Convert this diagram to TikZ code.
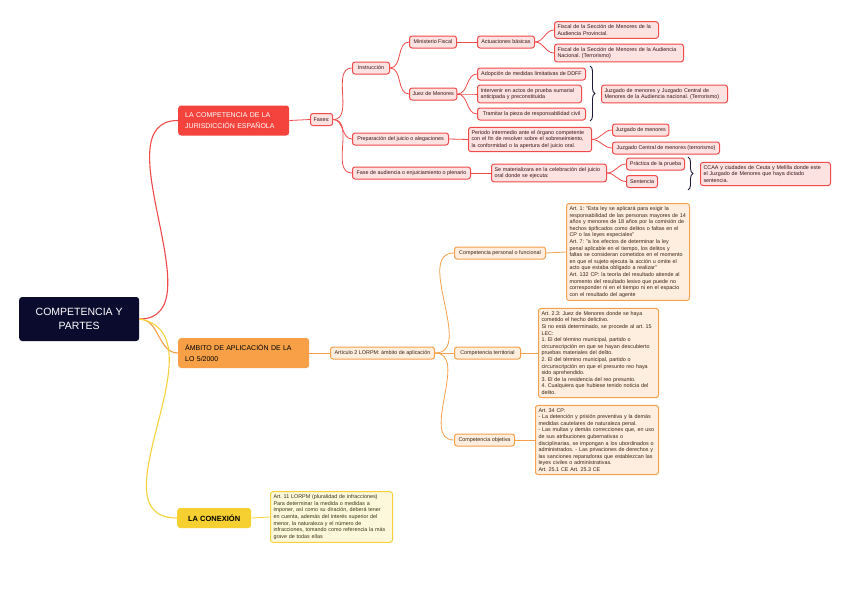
\documentclass[tikz,border=0pt]{standalone}
\usepackage{fontspec}
\setmainfont{Liberation Sans}
\usetikzlibrary{decorations.pathreplacing}
\definecolor{rootfill}{HTML}{0B0B2E}
\definecolor{redmain}{HTML}{F4433C}
\definecolor{redline}{HTML}{EF4B4B}
\definecolor{redfill}{HTML}{FDE2E2}
\definecolor{redtext}{HTML}{3A1414}
\definecolor{ormain}{HTML}{F7A048}
\definecolor{orline}{HTML}{F5A04A}
\definecolor{orfill}{HTML}{FDEEDF}
\definecolor{ortext}{HTML}{3A2410}
\definecolor{yemain}{HTML}{F5D030}
\definecolor{yeline}{HTML}{F5D23A}
\definecolor{yefill}{HTML}{FDF8DC}
\definecolor{yetext}{HTML}{3A3010}
\definecolor{bracecol}{HTML}{1A1A3A}
\frenchspacing
\newcommand\mysmallfont{\fontsize{5.4}{6.6}\selectfont\hyphenpenalty=10000\relax\exhyphenpenalty=10000\relax}
\begin{document}
\begin{tikzpicture}[x=1pt,y=-1pt,
  small/.style={font=\mysmallfont, anchor=west, rounded corners=2.5pt,
    line width=1pt, inner xsep=3pt, inner ysep=3pt, align=left},
  rsm/.style={small, draw=redline, fill=redfill, text=redtext},
  osm/.style={small, draw=orline, fill=orfill, text=ortext},
  ysm/.style={small, draw=yeline, fill=yefill, text=yetext},
  one/.style={minimum height=12pt, align=center},
  rl/.style={draw=redline, line width=0.8pt},
  ol/.style={draw=orline, line width=0.8pt},
  yl/.style={draw=yeline, line width=0.8pt},
  mainbox/.style={anchor=west, rounded corners=3pt, inner xsep=7pt, inner ysep=3pt, align=left,
    font=\fontsize{7}{10.5}\selectfont},
  bracestyle/.style={draw=bracecol, line width=0.9pt, decorate, decoration={brace, amplitude=5pt}}
]
\useasboundingbox[fill=white] (0,0) rectangle (848,589);

% root
\node[anchor=west, fill=rootfill, text=white, rounded corners=3pt, minimum width=120pt,
  minimum height=44pt, align=center, font=\fontsize{10.5}{14}\selectfont] (root) at (19,319)
  {COMPETENCIA Y\\PARTES};

% main branches
\node[mainbox, fill=redmain, text=white, text width=97pt, minimum height=30pt] (red) at (178,120.5)
  {LA COMPETENCIA DE LA\\JURISDICCIÓN ESPAÑOLA};
\node[mainbox, fill=ormain, text=black, text width=117pt, minimum height=30pt] (orange) at (178,353)
  {ÁMBITO DE APLICACIÓN DE LA\\LO 5/2000};
\node[mainbox, fill=yemain, text=black, minimum width=74pt, minimum height=20pt, align=center,
  font=\fontsize{7.5}{9}\selectfont\bfseries] (yellow) at (177,518) {LA CONEXIÓN};

\draw[redline, line width=1.1pt] (root.east) to[out=0,in=180] (red.west);
\draw[orline, line width=1.1pt] (root.east) to[out=0,in=180] (orange.west);
\draw[yeline, line width=1.1pt] (root.east) to[out=-10,in=180,looseness=1.1] (yellow.west);

% red branch
\node[rsm,one,minimum width=21pt] (fases) at (310,119.5) {Fases:};
\node[rsm,one,minimum width=37pt] (instr) at (352,68) {Instrucción};
\node[rsm,one,minimum width=96pt] (prep) at (352,139) {Preparación del juicio o alegaciones};
\node[rsm,one,minimum width=118pt] (fase) at (352,173) {Fase de audiencia o enjuiciamiento o plenario};
\node[rsm,one,minimum width=47pt] (mf) at (409,42) {Ministerio Fiscal};
\node[rsm,one,minimum width=47pt] (jm) at (409,94) {Juez de Menores};
\node[rsm,one,minimum width=57pt] (act) at (477,42) {Actuaciones básicas};
\node[rsm,text width=98pt] (fprov) at (554,30) {Fiscal de la Sección de Menores de la\\Audiencia Provincial.};
\node[rsm,text width=123pt] (fnac) at (554,53) {Fiscal de la Sección de Menores de la Audiencia\\Nacional. (Terrorismo)};
\node[rsm,one,minimum width=108pt] (adop) at (477,74) {Adopción de medidas limitativas de DDFF};
\node[rsm,text width=98pt] (interv) at (477,94) {Intervenir en actos de prueba sumarial\\anticipada y preconstituida};
\node[rsm,one,minimum width=108pt] (tram) at (477,114) {Tramitar la pieza de responsabilidad civil};
\node[rsm,text width=120pt] (jcm) at (601,94) {Juzgado de menores y Juzgado Central de\\Menores de la Audiencia nacional. (Terrorismo)};
\node[rsm,text width=117pt] (periodo) at (468,139.5) {Periodo intermedio ante el órgano competente\\con el fin de resolver sobre el sobreseimiento,\\la conformidad o la apertura del juicio oral.};
\node[rsm,one,minimum width=55pt] (jmen) at (612,130) {Juzgado de menores};
\node[rsm,one,minimum width=107pt] (jcen) at (612,148) {Juzgado Central de menores (terrorismo)};
\node[rsm,text width=109pt] (semat) at (491,173) {Se materializara en la celebración del juicio\\oral donde se ejecuta:};
\node[rsm,one,minimum width=58pt] (prac) at (626,164) {Práctica de la prueba};
\node[rsm,one,minimum width=31pt] (sent) at (626,181.5) {Sentencia};
\node[rsm,text width=124pt] (ccaa) at (700,174) {CCAA y ciudades de Ceuta y Melilla donde este\\el Juzgado de Menores que haya dictado\\sentencia.};

\draw[rl] (red.east) -- (fases.west);
\draw[rl] (fases.east) to[out=0,in=180] (instr.west);
\draw[rl] (fases.east) to[out=0,in=180] (prep.west);
\draw[rl] (fases.east) to[out=0,in=180] (fase.west);
\draw[rl] (instr.east) to[out=0,in=180] (mf.west);
\draw[rl] (instr.east) to[out=0,in=180] (jm.west);
\draw[rl] (mf.east) -- (act.west);
\draw[rl] (act.east) to[out=0,in=180] (fprov.west);
\draw[rl] (act.east) to[out=0,in=180] (fnac.west);
\draw[rl] (jm.east) to[out=0,in=180] (adop.west);
\draw[rl] (jm.east) to[out=0,in=180] (interv.west);
\draw[rl] (jm.east) to[out=0,in=180] (tram.west);
\draw[rl] (prep.east) -- (periodo.west);
\draw[rl] (periodo.east) to[out=0,in=180] (jmen.west);
\draw[rl] (periodo.east) to[out=0,in=180] (jcen.west);
\draw[rl] (fase.east) -- (semat.west);
\draw[rl] (semat.east) to[out=0,in=180] (prac.west);
\draw[rl] (semat.east) to[out=0,in=180] (sent.west);

\coordinate (b1a) at (590,66);
\coordinate (b1b) at (590,121);
\draw[bracestyle] (b1a) -- (b1b);
\coordinate (b2a) at (688,157);
\coordinate (b2b) at (688,190);
\draw[bracestyle] (b2a) -- (b2b);

% orange branch
\node[osm,one,minimum width=104pt] (art) at (330,353) {Artículo 2 LORPM: ámbito de aplicación};
\node[osm,one,minimum width=91pt] (cpers) at (454,253) {Competencia personal o funcional};
\node[osm,one,minimum width=66pt] (cterr) at (454,353) {Competencia territorial};
\node[osm,one,minimum width=60pt] (cobj) at (454,440) {Competencia objetiva};
\node[osm,text width=117pt] (npers) at (566,252) {Art. 1: "Esta ley se aplicará para exigir la\\responsabilidad de las personas mayores de 14\\años y menores de 18 años por la comisión de\\hechos tipificados como delitos o faltas en el\\CP o las leyes especiales"\\Art. 7: "a los efectos de determinar la ley\\penal aplicable en el tiempo, los delitos y\\faltas se consideran cometidos en el momento\\en que el sujeto ejecuta la acción u omite el\\acto que estaba obligado a realizar"\\Art. 132 CP: la teoría del resultado atiende al\\momento del resultado lesivo que puede no\\corresponder ni en el tiempo ni en el espacio\\con el resultado del agente};
\node[osm,text width=114pt] (nterr) at (538,353) {Art. 2.3: Juez de Menores donde se haya\\cometido el hecho delictivo.\\Si no está determinado, se procede al art. 15\\LEC:\\1. El del término municipal, partido o\\circunscripción en que se hayan descubierto\\pruebas materiales del delito.\\2. El del término municipal, partido o\\circunscripción en que el presunto reo haya\\sido aprehendido.\\3. El de la residencia del reo presunto.\\4. Cualquiera que hubiese tenido noticia del\\delito.};
\node[osm,text width=117pt] (nobj) at (535,440) {Art. 34 CP:\\- La detención y prisión preventiva y la demás\\medidas cautelares de naturaleza penal.\\- Las multas y demás correcciones que, en uso\\de sus atribuciones gubernativas o\\disciplinarias, se impongan a los ubordinados o\\administrados. - Las privaciones de derechos y\\las sanciones reparadoras que establezcan las\\leyes civiles o administrativas.\\Art. 25.1 CE Art. 25.3 CE};

\draw[ol] (orange.east) -- (art.west);
\draw[ol] (art.east) to[out=0,in=180] (cpers.west);
\draw[ol] (art.east) -- (cterr.west);
\draw[ol] (art.east) to[out=0,in=180] (cobj.west);
\draw[ol] (cpers.east) -- (npers.west);
\draw[ol] (cterr.east) -- (nterr.west);
\draw[ol] (cobj.east) -- (nobj.west);

% yellow branch
\node[ysm,text width=116pt] (nconex) at (270,517) {Art. 11 LORPM (pluralidad de infracciones)\\Para determinar la medida o medidas a\\imponer, así como su diración, deberá tener\\en cuenta, además del interés superior del\\menor, la naturaleza y el número de\\infracciones, tomando como referencia la más\\grave de todas ellas};
\draw[yl] (yellow.east) -- (nconex.west);
\end{tikzpicture}
\end{document}
